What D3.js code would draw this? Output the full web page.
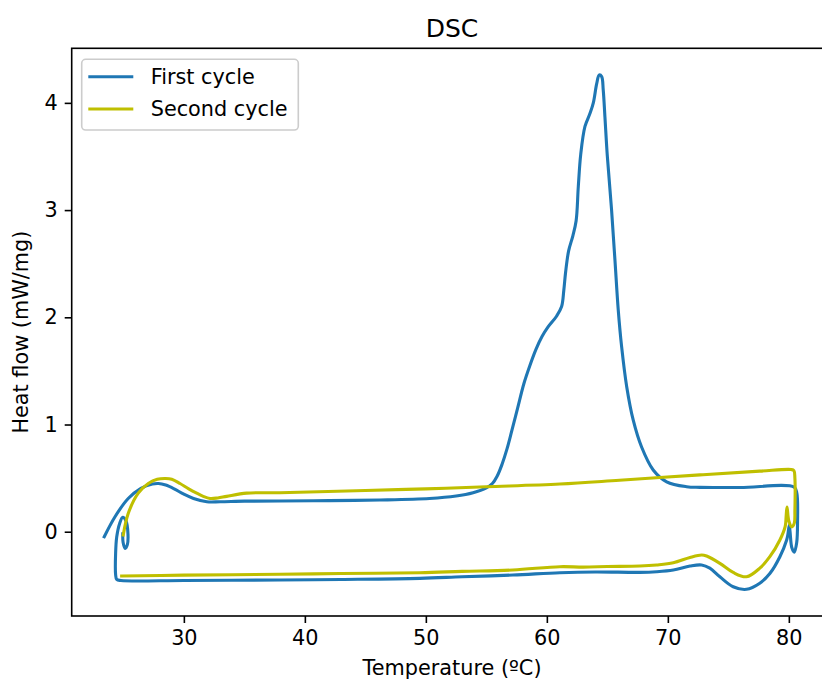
<!DOCTYPE html>
<html>
<head>
<meta charset="utf-8">
<script src="https://d3js.org/d3.v7.min.js"></script>
<style>
  body { margin: 0; background: #fff; }
  text { font-family: "DejaVu Sans", sans-serif; fill: #000; }
</style>
</head>
<body>
<div id="dsc"></div>
<script>
var seriesNames = ["First cycle", "Second cycle"];

var firstTemp = [23.42, 24.31, 25.40, 26.45, 27.4, 27.9, 28.5, 29.2, 30.0, 30.8, 31.9, 33.0, 35.0, 37.9, 42, 46.2, 50.3, 52.5, 53.9, 55.0,
  55.5, 55.9, 56.3, 56.7, 57.1, 57.6, 58.1, 58.6, 59.1, 59.6, 60.1, 60.8, 61.22, 61.4, 61.55, 61.8, 62.15, 62.42, 62.6, 62.8, 63.15, 63.56,
  63.84, 64.12, 64.33, 64.53, 64.66, 64.8, 65.0, 65.35, 65.63, 65.9, 66.18, 66.6, 67.14, 67.83, 68.79, 69.9, 71.55, 72.65, 76, 80.45,
  80.66, 80.72, 80.65, 80.45, 80.25, 80.1, 80.03, 79.93, 79.82, 79.26, 78.43, 77.6, 76.5, 75.4, 74.3, 73.47, 72.79, 71.83, 70.45, 69.07,
  67.69, 64, 61.08, 57.2, 53, 49.5, 43, 37.9, 30, 24.8, 24.45, 24.36, 24.36, 24.45, 24.7, 24.95, 25.22, 25.38, 25.33, 25.15,
  24.98, 24.95];
var firstFlow = [-0.047, 0.14, 0.31, 0.405, 0.445, 0.45, 0.435, 0.40, 0.35, 0.31, 0.28, 0.28, 0.285, 0.286, 0.29, 0.296, 0.31, 0.333, 0.364, 0.41,
  0.45, 0.52, 0.63, 0.77, 0.94, 1.16, 1.38, 1.55, 1.70, 1.82, 1.91, 2.01, 2.10, 2.25, 2.42, 2.62, 2.76, 2.9, 3.22, 3.52, 3.78, 3.9,
  4.0, 4.18, 4.26, 4.245, 4.12, 3.87, 3.5, 3.0, 2.53, 2.07, 1.726, 1.353, 1.04, 0.79, 0.576, 0.466, 0.42, 0.414, 0.413, 0.415,
  0.36, 0.1, -0.1, -0.19, -0.15, 0.0, 0.06, -0.02, -0.077, -0.233, -0.39, -0.48, -0.537, -0.513, -0.42, -0.34, -0.31, -0.32, -0.357, -0.373,
  -0.379, -0.375, -0.382, -0.404, -0.42, -0.435, -0.445, -0.45, -0.455, -0.455, -0.445, -0.40, -0.2, -0.05, 0.08, 0.135, 0.1, -0.02, -0.12, -0.155,
  -0.1, -0.02];

var secondTemp = [24.99, 25.40, 26.23, 27.06, 27.8, 28.5, 29.0, 29.68, 30.4, 31.06, 31.6, 32.16, 32.8, 33.54, 35.19, 37.94, 45, 50, 55, 61.08,
  66, 72.65, 77.6, 80.2, 80.42, 80.5, 80.5, 80.45, 80.25, 80.0, 79.85, 79.78, 79.7, 79.26, 78.43, 77.6, 76.5, 75.4, 74.3, 73.2,
  72.8, 71.83, 70.45, 69.07, 67.69, 65, 63, 61.08, 57.2, 53, 49.5, 43, 37.94, 30, 24.86];
var secondFlow = [-0.03, 0.17, 0.36, 0.45, 0.49, 0.497, 0.49, 0.45, 0.40, 0.36, 0.33, 0.31, 0.315, 0.33, 0.36, 0.364, 0.385, 0.40, 0.42, 0.445,
  0.48, 0.53, 0.565, 0.58, 0.57, 0.5, 0.2, 0.08, 0.045, 0.1, 0.23, 0.15, 0.05, -0.077, -0.233, -0.34, -0.42, -0.38, -0.295, -0.227,
  -0.217, -0.24, -0.29, -0.31, -0.32, -0.325, -0.33, -0.326, -0.357, -0.37, -0.382, -0.39, -0.397, -0.405, -0.413];

var xTicks = [30, 40, 50, 60, 70, 80];
var yTicks = [0, 1, 2, 3, 4];
var colors = ["#1f77b4", "#bfbf00"];

var plotLeft = 71.7, plotTop = 48.3, plotBottom = 616, plotRight = 832.4;
var fontSize = 20.8;

var svg = d3.select("#dsc")
  .append("svg")
    .attr("width", 822)
    .attr("height", 680)
    .style("display", "block");

var x = d3.scaleLinear()
  .domain([20.73, 83.6])
  .range([plotLeft, plotRight]);

var y = d3.scaleLinear()
  .domain([-0.786, 4.509])
  .range([plotBottom, plotTop]);

var series = [
  firstTemp.map(function(t, i) { return [t, firstFlow[i]]; }),
  secondTemp.map(function(t, i) { return [t, secondFlow[i]]; })
];

var line = d3.line()
  .x(function(d) { return x(d[0]); })
  .y(function(d) { return y(d[1]); })
  .curve(d3.curveCatmullRom.alpha(0.5));

svg.selectAll("path.cycle")
  .data(series)
  .enter()
  .append("path")
    .attr("class", "cycle")
    .attr("d", line)
    .style("fill", "none")
    .style("stroke", function(d, i) { return colors[i]; })
    .style("stroke-width", 3.1)
    .style("stroke-linejoin", "round")
    .style("stroke-linecap", "square");

// axes
var xAxis = svg.append("g")
  .attr("transform", "translate(0," + plotBottom + ")")
  .call(d3.axisBottom(x).tickValues(xTicks).tickFormat(d3.format("d")).tickSize(7).tickPadding(7).tickSizeOuter(0));
var yAxis = svg.append("g")
  .attr("transform", "translate(" + plotLeft + ",0)")
  .call(d3.axisLeft(y).tickValues(yTicks).tickFormat(d3.format("d")).tickSize(7).tickPadding(7).tickSizeOuter(0));

[xAxis, yAxis].forEach(function(g) {
  g.select(".domain").remove();
  g.selectAll(".tick line").style("stroke", "#000").style("stroke-width", 1.6);
  g.selectAll(".tick text").style("font-size", fontSize + "px").style("font-family", "DejaVu Sans").attr("fill", "#000");
});

svg.append("rect")
  .attr("x", plotLeft)
  .attr("y", plotTop)
  .attr("width", plotRight - plotLeft)
  .attr("height", plotBottom - plotTop)
  .style("fill", "none")
  .style("stroke", "#000")
  .style("stroke-width", 1.6);

// titles
svg.append("text")
  .attr("x", (plotLeft + plotRight) / 2)
  .attr("y", 36.5)
  .attr("text-anchor", "middle")
  .style("font-size", "25px")
  .text("DSC");

svg.append("text")
  .attr("x", (plotLeft + plotRight) / 2)
  .attr("y", 675)
  .attr("text-anchor", "middle")
  .style("font-size", fontSize + "px")
  .text("Temperature (ºC)");

svg.append("text")
  .attr("transform", "translate(28," + (plotTop + plotBottom) / 2 + ") rotate(-90)")
  .attr("text-anchor", "middle")
  .style("font-size", fontSize + "px")
  .text("Heat flow (mW/mg)");

// legend
var legend = svg.append("g");
legend.append("rect")
  .attr("x", 81.7)
  .attr("y", 59.3)
  .attr("width", 216.6)
  .attr("height", 70.7)
  .attr("rx", 4)
  .style("fill", "#fff")
  .style("fill-opacity", 0.8)
  .style("stroke", "#cccccc")
  .style("stroke-width", 1.6);

seriesNames.forEach(function(name, i) {
  var ly = 76.7 + i * 32.3;
  legend.append("line")
    .attr("x1", 88.3).attr("x2", 133.3)
    .attr("y1", ly).attr("y2", ly)
    .style("stroke", colors[i])
    .style("stroke-width", 3.1);
  legend.append("text")
    .attr("x", 150.7)
    .attr("y", ly)
    .attr("dy", "0.36em")
    .style("font-size", fontSize + "px")
    .text(name);
});
</script>
</body>
</html>
